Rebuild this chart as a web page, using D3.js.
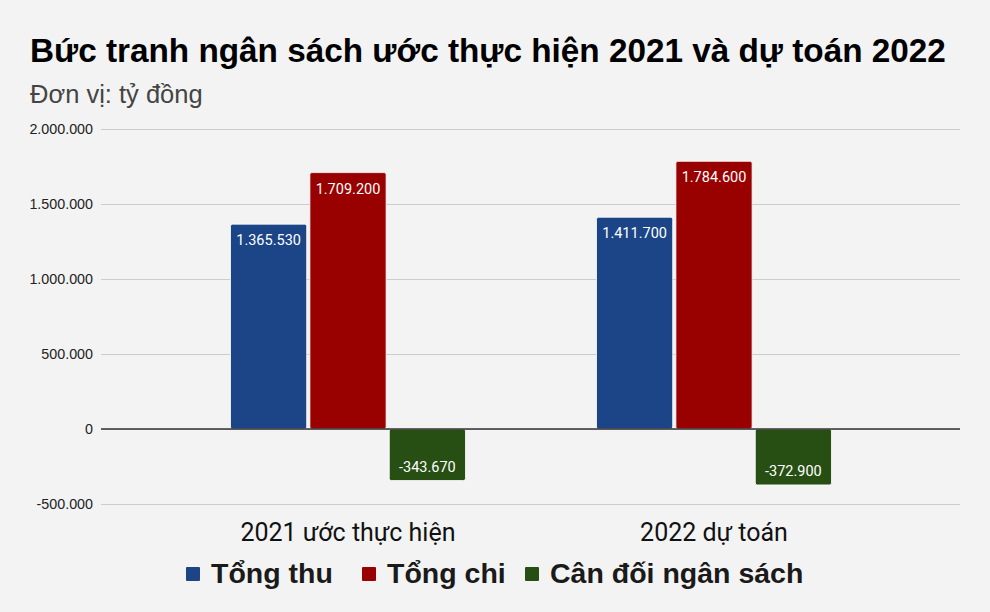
<!DOCTYPE html>
<html>
<head>
<meta charset="utf-8">
<script src="https://cdn.jsdelivr.net/npm/d3@7"></script>
<style>
  body { margin: 0; background: #f3f3f3; }
  svg { display: block; }
</style>
</head>
<body>
<div id="chart-area"></div>
<script>
// data
const categories = ["2021 ước thực hiện", "2022 dự toán"]
const seriesNames = ["Tổng thu", "Tổng chi", "Cân đối ngân sách"]
const tongThu = [1365530, 1411700]
const tongChi = [1709200, 1784600]
const canDoi = [-343670, -372900]
const yTicks = [-500000, 0, 500000, 1000000, 1500000, 2000000]

const colors = ["#1c4587", "#990000", "#274e13"]
const W = 990, H = 612
const PLOT = { LEFT: 101, RIGHT: 960, TOP: 129, BOTTOM: 504 }

// vietnamese style: dot as thousands separator, plain hyphen for minus
const fmt = v => d3.format(",")(v).replace(/,/g, ".").replace("−", "-")

const svg = d3.select("#chart-area").append("svg")
  .attr("width", W)
  .attr("height", H)

svg.append("rect").attr("width", W).attr("height", H).attr("fill", "#f3f3f3")

// title
svg.append("text")
  .attr("x", 30).attr("y", 62)
  .attr("font-family", "Liberation Sans, Arial, sans-serif")
  .attr("font-weight", "bold")
  .attr("font-size", "33.3px")
  .attr("fill", "#000")
  .text("Bức tranh ngân sách ước thực hiện 2021 và dự toán 2022")
svg.append("text")
  .attr("x", 30).attr("y", 103)
  .attr("font-family", "Liberation Sans, Arial, sans-serif")
  .attr("font-size", "25.5px")
  .attr("fill", "#444")
  .text("Đơn vị: tỷ đồng")

// scales
const y = d3.scaleLinear()
  .domain([-500000, 2000000])
  .range([PLOT.BOTTOM, PLOT.TOP])
const x0 = d3.scaleBand()
  .domain(categories)
  .range([165, 897])
const groupW = 235
const x1 = d3.scaleBand()
  .domain(seriesNames)
  .range([0, groupW])
  .paddingInner(0.04)

// grid
const yAxisCall = d3.axisLeft(y)
  .tickValues(yTicks)
  .tickSize(-(PLOT.RIGHT - PLOT.LEFT))
  .tickPadding(8)
  .tickFormat(fmt)
const yAxis = svg.append("g")
  .attr("transform", `translate(${PLOT.LEFT}, 0)`)
  .call(yAxisCall)
yAxis.select(".domain").remove()
yAxis.selectAll(".tick line").attr("stroke", "#cccccc").attr("stroke-width", 1)
yAxis.selectAll(".tick text")
  .attr("font-family", "Liberation Sans, Arial, sans-serif")
  .attr("font-size", "14.3px")
  .attr("fill", "#222")

// bars
const rows = categories.map((c, i) => ({
  cat: c,
  vals: [tongThu[i], tongChi[i], canDoi[i]]
}))

const groups = svg.selectAll("g.group")
  .data(rows)
  .enter().append("g")
  .attr("class", "group")
  .attr("transform", d => `translate(${x0(d.cat) + (x0.bandwidth() - groupW) / 2}, 0)`)

const bars = groups.selectAll("g.bar")
  .data(d => d.vals.map((v, j) => ({ name: seriesNames[j], v, j })))
  .enter().append("g")
  .attr("class", "bar")

bars.append("rect")
  .attr("x", d => x1(d.name))
  .attr("y", d => y(Math.max(0, d.v)))
  .attr("width", x1.bandwidth())
  .attr("height", d => Math.abs(y(d.v) - y(0)))
  .attr("rx", 2)
  .attr("fill", d => colors[d.j])
  .attr("stroke", "#ffffff")
  .attr("stroke-width", 0.8)

bars.append("text")
  .attr("x", d => x1(d.name) + x1.bandwidth() / 2)
  .attr("y", d => d.v >= 0 ? y(d.v) + 21 : y(d.v) - 9)
  .attr("text-anchor", "middle")
  .attr("font-family", "Roboto, sans-serif")
  .attr("font-size", "14.5px")
  .attr("fill", "#fff")
  .text(d => fmt(d.v))

// zero line
svg.append("line")
  .attr("x1", PLOT.LEFT).attr("x2", PLOT.RIGHT)
  .attr("y1", y(0)).attr("y2", y(0))
  .attr("stroke", "#333").attr("stroke-width", 1.5)

// category labels
svg.selectAll("text.cat")
  .data(categories)
  .enter().append("text")
  .attr("class", "cat")
  .attr("x", d => x0(d) + x0.bandwidth() / 2)
  .attr("y", 541)
  .attr("text-anchor", "middle")
  .attr("font-family", "Roboto, sans-serif")
  .attr("font-size", "25px")
  .attr("fill", "#111")
  .text(d => d)

// legend
const legend = svg.append("g")
const legendX = [186, 362, 525]
seriesNames.forEach((name, i) => {
  const row = legend.append("g")
    .attr("transform", `translate(${legendX[i]}, 583)`)
  row.append("rect")
    .attr("x", 0).attr("y", -16)
    .attr("width", 14).attr("height", 14)
    .attr("rx", 1)
    .attr("fill", colors[i])
  row.append("text")
    .attr("x", 25).attr("y", 0)
    .attr("font-family", "Liberation Sans, Arial, sans-serif")
    .attr("font-weight", "bold")
    .attr("font-size", "28.5px")
    .attr("fill", "#1a1a1a")
    .text(name)
})
</script>
</body>
</html>
